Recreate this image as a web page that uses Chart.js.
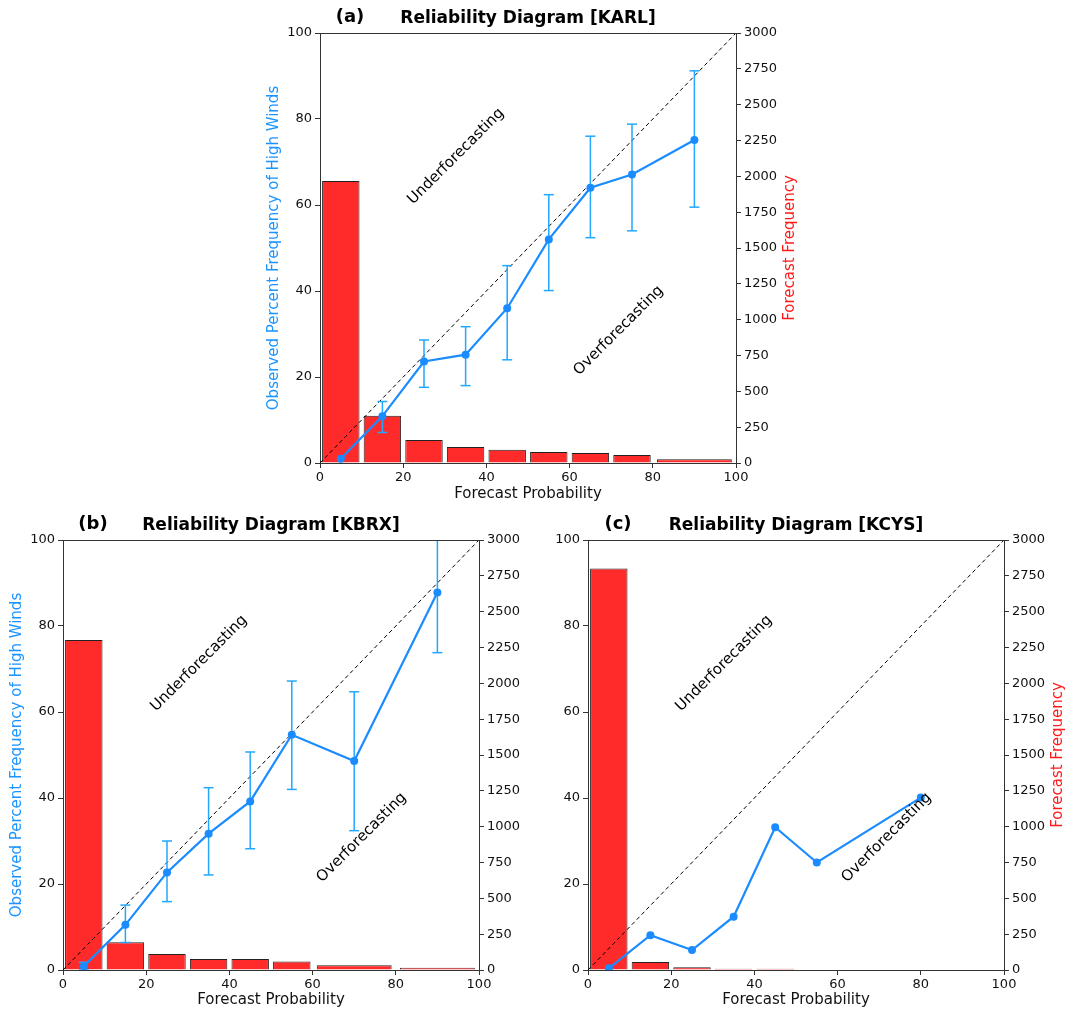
<!DOCTYPE html>
<html>
<head>
<meta charset="utf-8">
<script src="https://cdn.jsdelivr.net/npm/chart.js@4.4.1/dist/chart.umd.min.js"></script>
<style>
  body { margin: 0; background: #fff; width: 1066px; height: 1012px; position: relative; overflow: hidden; }
  .panel { position: absolute; }
</style>
</head>
<body>
<div class="panel" style="left:262px;top:0px;width:540px;height:506px"><canvas id="chartA"></canvas></div>
<div class="panel" style="left:5px;top:507px;width:525px;height:505px"><canvas id="chartB"></canvas></div>
<div class="panel" style="left:531px;top:507px;width:535px;height:505px"><canvas id="chartC"></canvas></div>
<script>
// --- dados ---
// (a) KARL
const probKARL = [5, 15, 25, 35, 45, 55, 65, 75, 90];
const obsKARL = [1.0, 10.9, 23.6, 25.2, 36.0, 52.0, 64.0, 67.1, 75.1];
const errLoKARL = [null, 7.1, 17.6, 18.0, 24.0, 40.1, 52.4, 54.0, 59.5];
const errHiKARL = [null, 14.3, 28.6, 31.7, 45.9, 62.4, 76.0, 78.8, 91.2];
const binLoKARL = [0, 10, 20, 30, 40, 50, 60, 70, 80];
const binHiKARL = [10, 20, 30, 40, 50, 60, 70, 80, 100];
const countKARL = [1967, 330, 160, 112, 93, 77, 70, 56, 26];

// (b) KBRX
const probKBRX = [5, 15, 25, 35, 45, 55, 70, 90];
const obsKBRX = [0.9, 10.5, 22.7, 31.7, 39.2, 54.7, 48.6, 87.8];
const errLoKBRX = [0.0, 6.4, 15.9, 22.1, 28.2, 42.0, 32.4, 73.8];
const errHiKBRX = [1.8, 15.1, 30.0, 42.4, 50.7, 67.2, 64.7, 101];
const binLoKBRX = [0, 10, 20, 30, 40, 50, 60, 80];
const binHiKBRX = [10, 20, 30, 40, 50, 60, 80, 100];
const countKBRX = [2302, 193, 112, 77, 77, 60, 33, 16];

// (c) KCYS
const probKCYS = [5, 15, 25, 35, 45, 55, 80];
const obsKCYS = [0.4, 8.1, 4.65, 12.4, 33.2, 25.0, 40.1];
const binLoKCYS = [0, 10, 20, 30, 40, 50, 60];
const binHiKCYS = [10, 20, 30, 40, 50, 60, 100];
const countKCYS = [2802, 56, 19, 9, 9, 3, 3];

// passos dos eixos
const xStep = 20;
const yStep = 20;
const y2Step = 250;

const BLUE = '#1a8cff';
const ERR_BLUE = '#22a8ff';
const RED = '#ff2b2b';
const FONT = '"DejaVu Sans", sans-serif';

// desenha moldura superior, títulos, rótulos diagonais e título do eixo direito
const decor = {
  id: 'decor',
  afterDraw(chart, args, opts) {
    const { ctx, chartArea: a, scales } = chart;
    ctx.save();
    ctx.strokeStyle = '#333';
    ctx.lineWidth = 1;
    ctx.beginPath();
    const ty = Math.round(a.top) + 0.5;
    ctx.moveTo(a.left, ty);
    ctx.lineTo(a.right, ty);
    ctx.stroke();

    ctx.fillStyle = '#000';
    ctx.textAlign = 'center';
    ctx.textBaseline = 'middle';
    ctx.font = 'bold 17px ' + FONT;
    ctx.fillText(opts.title, (a.left + a.right) / 2, a.top - 14);
    ctx.font = 'bold 18px ' + FONT;
    ctx.fillText(opts.tag, a.left + 30, a.top - 16);

    ctx.font = '15px ' + FONT;
    for (const n of opts.notes) {
      const px = scales.x.getPixelForValue(n.x);
      const py = scales.y.getPixelForValue(n.y);
      ctx.save();
      ctx.translate(px, py);
      ctx.rotate(-Math.PI / 4);
      ctx.fillText(n.text, 0, 0);
      ctx.restore();
    }

    if (opts.rightTitle) {
      ctx.save();
      ctx.translate(a.right + 54, (a.top + a.bottom) / 2);
      ctx.rotate(-Math.PI / 2);
      ctx.fillStyle = '#ff1a1a';
      ctx.font = '15px ' + FONT;
      ctx.fillText(opts.rightTitle, 0, 0);
      ctx.restore();
    }
    ctx.restore();
  }
};

function barSets(lo, hi, counts) {
  // um dataset por largura de classe, para que a barra ocupe 90% da classe
  const byWidth = {};
  lo.forEach((l, i) => {
    const w = hi[i] - l;
    (byWidth[w] = byWidth[w] || []).push({ x: (l + hi[i]) / 2, y: counts[i] });
  });
  return Object.keys(byWidth).map(w => ({
    type: 'bar',
    yAxisID: 'y2',
    data: byWidth[w],
    backgroundColor: RED,
    borderColor: '#222',
    borderWidth: 1,
    grouped: false,
    categoryPercentage: 1,
    barPercentage: 0.9 * Number(w) / 10,
    order: 4
  }));
}

function errorSet(prob, lo, hi) {
  const pts = [];
  prob.forEach((p, i) => {
    if (lo[i] == null) return;
    pts.push({ x: p, y: lo[i] }, { x: p, y: hi[i] }, { x: p, y: null });
  });
  return {
    type: 'line',
    yAxisID: 'y',
    data: pts,
    borderColor: ERR_BLUE,
    borderWidth: 1.5,
    pointStyle: 'line',
    pointRadius: 5,
    pointBorderWidth: 1.5,
    pointBorderColor: ERR_BLUE,
    spanGaps: false,
    order: 2
  };
}

function makeChart(id, c) {
  const datasets = barSets(c.binLo, c.binHi, c.counts);
  datasets.push({
    type: 'line', yAxisID: 'y',
    data: [{ x: 0, y: 0 }, { x: 100, y: 100 }],
    borderColor: '#000', borderWidth: 1, borderDash: [4, 3],
    pointRadius: 0, order: 3
  });
  if (c.errLo) datasets.push(errorSet(c.prob, c.errLo, c.errHi));
  datasets.push({
    type: 'line', yAxisID: 'y',
    data: c.prob.map((p, i) => ({ x: p, y: c.obs[i] })),
    borderColor: BLUE, borderWidth: 2.2,
    pointRadius: 4, pointBackgroundColor: BLUE, pointBorderWidth: 0,
    order: 1
  });

  const tickFont = { family: FONT, size: 13 };
  const grid = { display: true, offset: false, drawOnChartArea: false, drawTicks: true, tickLength: 5, color: '#333' };
  const border = { display: true, color: '#333', width: 1 };

  return new Chart(document.getElementById(id), {
    type: 'bar',
    data: { datasets },
    options: {
      responsive: true,
      maintainAspectRatio: false,
      animation: false,
      events: [],
      layout: { padding: { top: 33 } },
      plugins: {
        legend: { display: false },
        tooltip: { enabled: false },
        decor: { title: c.title, tag: c.tag, notes: c.notes, rightTitle: c.rightTitle }
      },
      scales: {
        x: {
          type: 'linear', position: 'bottom', min: 0, max: 100, offset: false,
          ticks: { stepSize: xStep, autoSkip: false, font: tickFont, color: '#111', padding: 2, maxRotation: 0 },
          grid, border,
          title: { display: true, text: 'Forecast Probability', color: '#111', font: { family: FONT, size: 15 }, padding: 3 },
          afterFit: s => { s.height = c.xH; }
        },
        y: {
          type: 'linear', position: 'left', min: 0, max: 100,
          ticks: { stepSize: yStep, font: tickFont, color: '#111', padding: 3 },
          grid, border,
          title: { display: !!c.leftTitle, text: c.leftTitle || '', color: '#1a94ff', font: { family: FONT, size: 15 }, padding: 3 },
          afterFit: s => { s.width = c.yLW; }
        },
        y2: {
          type: 'linear', position: 'right', min: 0, max: 3000,
          ticks: { stepSize: y2Step, autoSkip: false, font: tickFont, color: '#111', padding: 3, callback: v => String(v) },
          grid, border,
          afterFit: s => { s.width = c.yRW; }
        }
      }
    },
    plugins: [decor]
  });
}

const notes = [
  { text: 'Underforecasting', x: 32.7, y: 71.3 },
  { text: 'Overforecasting', x: 71.8, y: 30.8 }
];

makeChart('chartA', {
  prob: probKARL, obs: obsKARL, errLo: errLoKARL, errHi: errHiKARL,
  binLo: binLoKARL, binHi: binHiKARL, counts: countKARL,
  title: 'Reliability Diagram [KARL]', tag: '(a)', notes,
  leftTitle: 'Observed Percent Frequency of High Winds', rightTitle: 'Forecast Frequency',
  yLW: 58, yRW: 66, xH: 43
});

makeChart('chartB', {
  prob: probKBRX, obs: obsKBRX, errLo: errLoKBRX, errHi: errHiKBRX,
  binLo: binLoKBRX, binHi: binHiKBRX, counts: countKBRX,
  title: 'Reliability Diagram [KBRX]', tag: '(b)', notes,
  leftTitle: 'Observed Percent Frequency of High Winds',
  yLW: 58, yRW: 51, xH: 42
});

makeChart('chartC', {
  prob: probKCYS, obs: obsKCYS,
  binLo: binLoKCYS, binHi: binHiKCYS, counts: countKCYS,
  title: 'Reliability Diagram [KCYS]', tag: '(c)', notes,
  rightTitle: 'Forecast Frequency',
  yLW: 57, yRW: 62, xH: 42
});
</script>
</body>
</html>
